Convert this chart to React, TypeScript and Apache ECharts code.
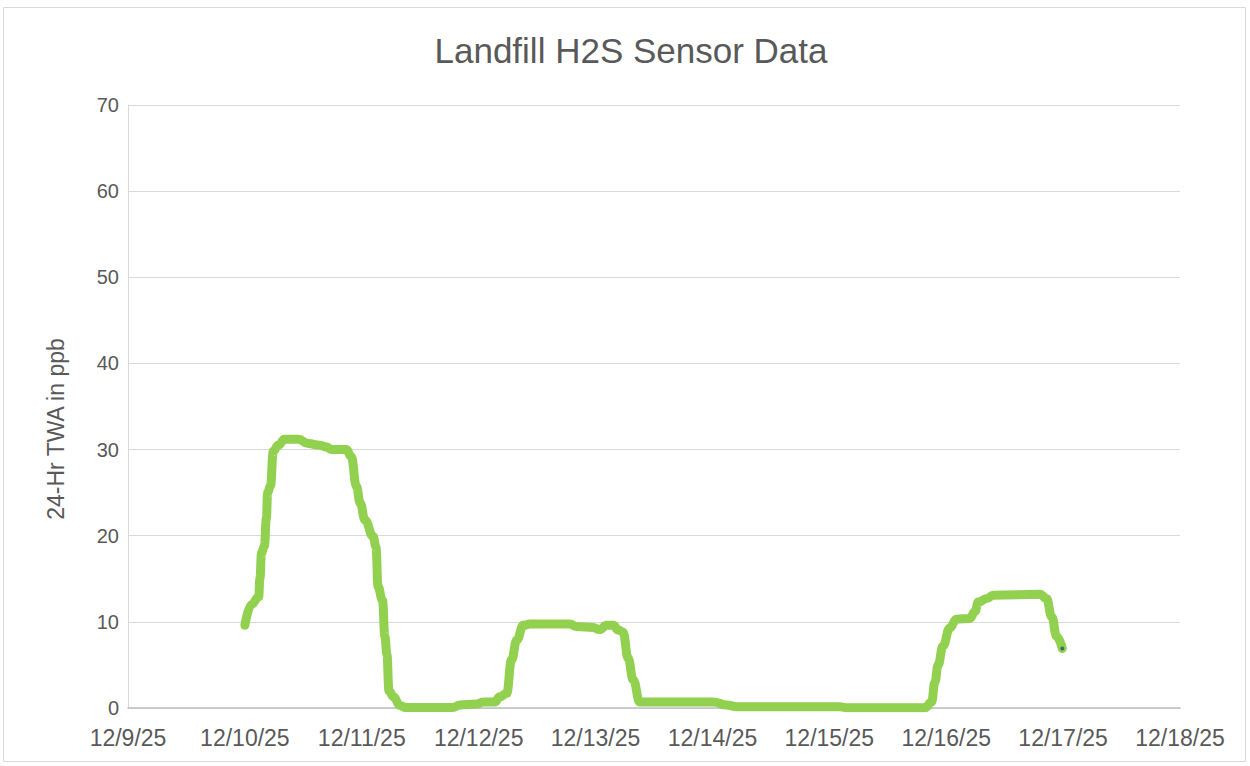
import React, { useEffect, useRef } from "react";
import * as echarts from "echarts";

const TITLE = "Landfill H2S Sensor Data";
const Y_NAME = "24-Hr TWA in ppb";
const BASE_DAY = 9;
const DAY_COUNT = 9;
const yTicks = [0, 10, 20, 30, 40, 50, 60, 70];

const times = [
  "12/10 00:00", "12/10 01:20", "12/10 02:50", "12/10 03:05", "12/10 03:25", "12/10 04:00",
  "12/10 04:25", "12/10 04:40", "12/10 05:15", "12/10 05:50", "12/10 06:50", "12/10 08:10",
  "12/10 11:00", "12/10 13:00", "12/10 15:20", "12/10 16:45", "12/10 17:50", "12/10 20:50",
  "12/10 21:50", "12/10 22:55", "12/10 23:40", "12/11 00:40", "12/11 02:20", "12/11 02:55",
  "12/11 03:20", "12/11 04:15", "12/11 04:45", "12/11 05:10", "12/11 05:35", "12/11 06:30",
  "12/11 07:50", "12/11 09:00", "12/11 18:40", "12/11 20:10", "12/11 23:30", "12/12 00:55",
  "12/12 03:20", "12/12 04:20", "12/12 05:45", "12/12 06:45", "12/12 07:50", "12/12 09:10",
  "12/12 10:30", "12/12 18:45", "12/12 20:05", "12/12 23:30", "12/13 00:50", "12/13 02:15",
  "12/13 03:40", "12/13 04:40", "12/13 05:40", "12/13 06:40", "12/13 07:45", "12/13 09:05",
  "12/14 00:10", "12/14 02:55", "12/14 05:00", "12/15 02:10", "12/15 03:35", "12/15 19:40",
  "12/15 21:00", "12/15 21:40", "12/15 22:20", "12/15 23:20", "12/16 00:45", "12/16 02:05",
  "12/16 04:50", "12/16 05:55", "12/16 06:35", "12/16 08:20", "12/16 09:40", "12/16 19:15",
  "12/16 20:35", "12/16 21:40", "12/16 22:40", "12/16 23:50",
];

const twa = [
  9.6, 12.0, 12.9, 15.0, 18.0, 18.8,
  22.0, 25.0, 25.8, 29.8, 30.5, 31.2,
  31.2, 30.7, 30.5, 30.3, 30.0, 30.0,
  29.2, 25.7, 23.8, 21.8, 19.9, 18.7,
  14.1, 12.5, 8.3, 6.2, 2.0, 1.3,
  0.3, 0.05, 0.05, 0.35, 0.45, 0.7,
  0.7, 1.3, 1.7, 5.6, 7.9, 9.6,
  9.75, 9.75, 9.45, 9.35, 9.1, 9.6,
  9.6, 9.05, 8.8, 5.8, 3.25, 0.7,
  0.7, 0.35, 0.15, 0.15, 0.02, 0.02,
  0.7, 3.0, 5.0, 7.2, 9.3, 10.3,
  10.4, 11.2, 12.3, 12.7, 13.1, 13.2,
  12.7, 10.6, 8.3, 6.9,
];

function toDayOffset(t: string): number {
  const [md, hm] = t.split(" ");
  const day = parseInt(md.split("/")[1], 10);
  const [h, m] = hm.split(":").map((s) => parseInt(s, 10));
  return day - BASE_DAY + (h + m / 60) / 24;
}

export default function App() {
  const ref = useRef<HTMLDivElement>(null);

  useEffect(() => {
    if (!ref.current) return;
    const chart = echarts.init(ref.current, undefined, { renderer: "svg" });
    const points = times.map((t, i) => [toDayOffset(t), twa[i]]);
    const last = points[points.length - 1];
    const font = "'Liberation Sans', Arial, sans-serif";

    chart.setOption({
      animation: false,
      backgroundColor: "#ffffff",
      grid: { left: 128, right: 70, top: 105, bottom: 58, containLabel: false },
      graphic: [
        {
          type: "rect",
          shape: { x: 3.5, y: 7.5, width: 1242, height: 754 },
          style: { fill: "none", stroke: "#d9d9d9", lineWidth: 1 },
          silent: true,
        },
        {
          type: "text",
          x: 631,
          y: 50,
          style: {
            text: TITLE,
            fill: "#595959",
            font: `35px ${font}`,
            textAlign: "center",
            textVerticalAlign: "middle",
          },
        },
        {
          type: "text",
          x: 56,
          y: 429,
          rotation: Math.PI / 2,
          style: {
            text: Y_NAME,
            fill: "#595959",
            font: `23px ${font}`,
            textAlign: "center",
            textVerticalAlign: "middle",
          },
        },
      ],
      xAxis: {
        type: "value",
        min: 0,
        max: DAY_COUNT,
        interval: 1,
        axisLine: { show: true, lineStyle: { color: "#bfbfbf", width: 1.5 } },
        axisTick: { show: false },
        splitLine: { show: false },
        axisLabel: {
          color: "#595959",
          fontSize: 23,
          fontFamily: font,
          margin: 18,
          formatter: (v: number) => `12/${BASE_DAY + Math.round(v)}/25`,
        },
      },
      yAxis: {
        type: "value",
        min: yTicks[0],
        max: yTicks[yTicks.length - 1],
        interval: 10,
        axisLine: { show: true, lineStyle: { color: "#d9d9d9", width: 1 } },
        axisTick: { show: false },
        splitLine: { show: true, lineStyle: { color: "#d9d9d9", width: 1 } },
        axisLabel: { color: "#595959", fontSize: 20, fontFamily: font, margin: 9 },
      },
      series: [
        {
          type: "line",
          data: points,
          showSymbol: false,
          smooth: 0.45,
          smoothMonotone: "x",
          lineStyle: { color: "#92d050", width: 9, cap: "round", join: "round" },
          z: 3,
        },
        {
          type: "scatter",
          data: [last],
          symbol: "circle",
          symbolSize: 4,
          itemStyle: { color: "#1f4e79" },
          z: 4,
        },
      ],
    });

    return () => chart.dispose();
  }, []);

  return (
    <div
      ref={ref}
      style={{ position: "absolute", left: 0, top: 0, width: 1250, height: 766 }}
    />
  );
}
